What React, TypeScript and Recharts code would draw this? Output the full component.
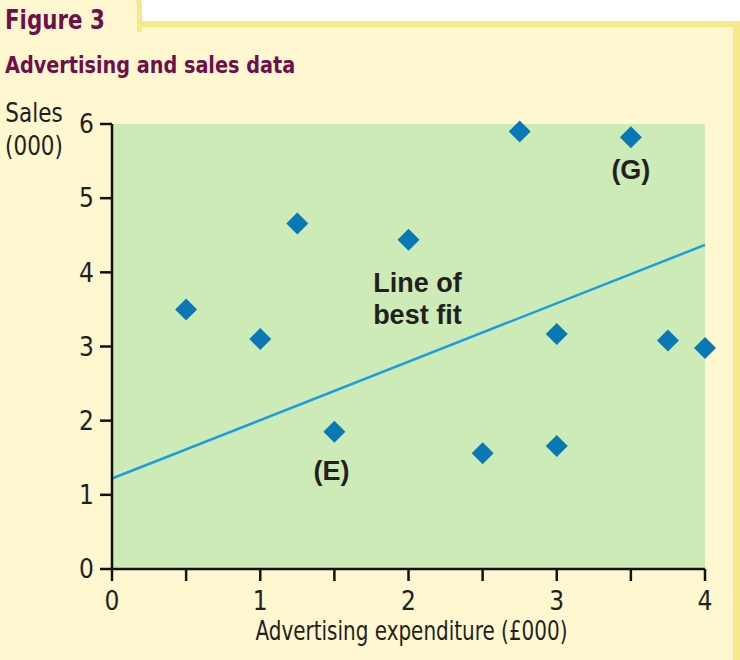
import React from "react";
import {
  ScatterChart,
  Scatter,
  XAxis,
  YAxis,
  CartesianGrid,
  ReferenceLine,
  ReferenceDot,
} from "recharts";

// ─── Data ─────────────────────────────────────────────────
const adSpend = [0.5, 1, 1.25, 1.5, 2, 2.5, 2.75, 3, 3, 3.5, 3.75, 4];
const sales = [3.5, 3.1, 4.66, 1.85, 4.44, 1.56, 5.9, 3.17, 1.66, 5.82, 3.08, 2.98];

const xTicks = [0, 0.5, 1, 1.5, 2, 2.5, 3, 3.5, 4];
const yTicks = [0, 1, 2, 3, 4, 5, 6];

// line of best fit end points
const fitX = [0, 4];
const fitY = [1.22, 4.37];

// in-plot annotations
const noteText = ["Line of", "best fit", "(E)", "(G)"];
const noteX = [2.06, 2.06, 1.48, 3.5];
const noteY = [3.86, 3.42, 1.32, 5.38];

// ─── Colours ──────────────────────────────────────────────
const CREAM = "#fef7cf";
const GOLD = "#f6e98c";
const GREEN = "#cdebb7";
const PURPLE = "#6e0f4a";
const MARKER = "#0a78b4";
const FIT = "#1a9ee0";
const INK = "#231f20";

const NARROW = "'DejaVu Sans Condensed', sans-serif";
const BOLD = "'Liberation Sans', Arial, sans-serif";
const TITLE = "'DejaVu Sans Condensed', 'Open Sans', sans-serif";

const points = adSpend.map((x, i) => ({ x, y: sales[i] }));

const Diamond = (props: any) => {
  const { cx, cy } = props;
  const h = 11;
  return (
    <polygon
      points={`${cx},${cy - h} ${cx + h},${cy} ${cx},${cy + h} ${cx - h},${cy}`}
      fill={MARKER}
    />
  );
};

const noteLabel = (text: string) => (props: any) => {
  const { x, y } = props.viewBox;
  return (
    <text
      x={x}
      y={y}
      textAnchor="middle"
      dominantBaseline="central"
      fontFamily={BOLD}
      fontWeight="bold"
      fontSize={27}
      fill={INK}
    >
      {text}
    </text>
  );
};

// condensed axis title, squeezed to the width of the original
const xTitle = (props: any) => {
  const { x, y, width, height } = props.viewBox;
  return (
    <text
      x={x + width / 2 - 153}
      y={y + height - 20}
      fontFamily={NARROW}
      fontSize={27}
      fill={INK}
      textLength={312}
      lengthAdjust="spacingAndGlyphs"
    >
      Advertising expenditure (£000)
    </text>
  );
};

const axisStroke = { stroke: "#111", strokeWidth: 2.5 };

export default function App() {
  return (
    <div
      style={{
        position: "absolute",
        left: 0,
        top: 0,
        width: 740,
        height: 660,
        background: "#fff",
        overflow: "hidden",
      }}
    >
      {/* panel */}
      <div
        style={{
          position: "absolute",
          left: 0,
          top: 21,
          width: 740,
          height: 660,
          boxSizing: "border-box",
          background: CREAM,
          borderTop: `6px solid ${GOLD}`,
          borderRight: `7px solid ${GOLD}`,
        }}
      />
      {/* figure tab */}
      <div
        style={{
          position: "absolute",
          left: -10,
          top: -8,
          width: 152,
          height: 40,
          boxSizing: "border-box",
          background: CREAM,
          borderTop: `5px solid ${GOLD}`,
          borderRight: `5px solid ${GOLD}`,
          borderTopRightRadius: 13,
        }}
      />
      <div
        style={{
          position: "absolute",
          left: 5,
          top: 4,
          fontFamily: TITLE,
          fontWeight: "bold",
          fontSize: 27,
          color: PURPLE,
          lineHeight: "32px",
          transform: "scaleX(0.88)",
          transformOrigin: "left top",
          whiteSpace: "nowrap",
        }}
      >
        Figure 3
      </div>
      <div
        style={{
          position: "absolute",
          left: 5,
          top: 51,
          fontFamily: TITLE,
          fontWeight: "bold",
          fontSize: 23,
          color: PURPLE,
          lineHeight: "28px",
          transform: "scaleX(0.93)",
          transformOrigin: "left top",
          whiteSpace: "nowrap",
        }}
      >
        Advertising and sales data
      </div>
      <div
        style={{
          position: "absolute",
          left: 2,
          top: 97,
          width: 64,
          textAlign: "center",
          fontFamily: NARROW,
          fontSize: 26,
          color: INK,
          lineHeight: "33px",
          transform: "scaleX(0.92)",
          transformOrigin: "center top",
        }}
      >
        Sales
        <br />
        (000)
      </div>

      <div style={{ position: "absolute", left: 0, top: 0 }}>
        <ScatterChart
          width={740}
          height={660}
          margin={{ top: 124, right: 35, bottom: 0, left: 0 }}
        >
          <CartesianGrid fill={GREEN} horizontal={false} vertical={false} stroke="none" />
          <XAxis
            type="number"
            dataKey="x"
            domain={[0, 4]}
            ticks={xTicks}
            interval={0}
            height={91}
            tickSize={12}
            tickMargin={11}
            tickFormatter={(v: number) => (Number.isInteger(v) ? String(v) : "")}
            axisLine={axisStroke}
            tickLine={axisStroke}
            tick={{ fill: INK, fontSize: 26, fontFamily: NARROW }}
            label={xTitle}
          />
          <YAxis
            type="number"
            dataKey="y"
            domain={[0, 6]}
            ticks={yTicks}
            interval={0}
            width={112}
            tickSize={12}
            tickMargin={6}
            axisLine={axisStroke}
            tickLine={axisStroke}
            tick={{ fill: INK, fontSize: 26, fontFamily: NARROW }}
          />
          <ReferenceLine
            segment={[
              { x: fitX[0], y: fitY[0] },
              { x: fitX[1], y: fitY[1] },
            ]}
            stroke={FIT}
            strokeWidth={2.5}
          />
          <Scatter data={points} shape={Diamond} isAnimationActive={false} />
          {noteText.map((t, i) => (
            <ReferenceDot
              key={t}
              x={noteX[i]}
              y={noteY[i]}
              r={0}
              fill="none"
              stroke="none"
              label={noteLabel(t)}
            />
          ))}
        </ScatterChart>
      </div>
    </div>
  );
}
